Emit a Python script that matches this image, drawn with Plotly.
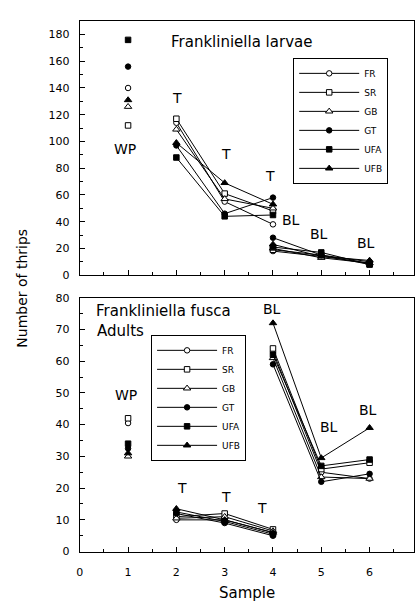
import plotly.graph_objects as go

# ---------------- data ----------------
series = ["FR", "SR", "GB", "GT", "UFA", "UFB"]
wp_sample = [1]
t_samples = [2, 3, 4]
bl_samples = [4, 5, 6]
x_ticks = [0, 1, 2, 3, 4, 5, 6]

# Frankliniella larvae (top panel), order as in `series`
larvae_wp = [140, 112, 126, 156, 176, 131]
larvae_t = [
    [114, 55, 38],
    [117, 61, 48],
    [109, 57, 50],
    [97, 46, 58],
    [88, 44, 45],
    [99, 69, 53],
]
larvae_bl = [
    [18, 14, 9],
    [19, 15, 8],
    [20, 13, 9],
    [28, 15, 10],
    [21, 17, 8],
    [23, 14, 11],
]

# Frankliniella fusca adults (bottom panel)
adults_wp = [40.5, 42, 30, 32.5, 34, 31]
adults_t = [
    [10, 10, 6],
    [11, 12, 7],
    [10.5, 11, 6.5],
    [12, 9, 5],
    [12.5, 9.5, 5.5],
    [13.5, 10, 6],
]
adults_bl = [
    [63, 25, 23],
    [64, 26, 28],
    [61, 23.5, 23],
    [59, 22, 24.5],
    [62, 27, 29],
    [72, 29.5, 39],
]

# ---------------- styles ----------------
FONT = "DejaVu Sans"
marker_styles = {
    "FR": dict(symbol="circle", color="white", size=5.5),
    "SR": dict(symbol="square", color="white", size=5.5),
    "GB": dict(symbol="triangle-up", color="white", size=6.5),
    "GT": dict(symbol="circle", color="black", size=5.5),
    "UFA": dict(symbol="square", color="black", size=5.5),
    "UFB": dict(symbol="triangle-up", color="black", size=6.5),
}

fig = go.Figure()


def add_panel(wp, t, bl, xa, ya, legend):
    for i, name in enumerate(series):
        xs = wp_sample + [None] + t_samples + [None] + bl_samples
        ys = [wp[i]] + [None] + t[i] + [None] + bl[i]
        ms = marker_styles[name]
        fig.add_trace(go.Scatter(
            x=xs, y=ys, name=name, mode="lines+markers",
            connectgaps=False, xaxis=xa, yaxis=ya, legend=legend,
            line=dict(color="black", width=1),
            marker=dict(symbol=ms["symbol"], color=ms["color"], size=ms["size"],
                        line=dict(color="black", width=1)),
        ))


add_panel(larvae_wp, larvae_t, larvae_bl, "x", "y", "legend")
add_panel(adults_wp, adults_t, adults_bl, "x2", "y2", "legend2")

W, H = 416, 610
xdom = [76.5 / W, 414.0 / W]
top_dom = [1 - 275 / H, 1 - 15.5 / H]
bot_dom = [1 - 557.5 / H, 1 - 298 / H]

axis_common = dict(showline=True, linecolor="black", linewidth=1, mirror=True,
                   showgrid=False, zeroline=False, ticks="inside", ticklen=5,
                   tickcolor="black", tickwidth=1,
                   tickfont=dict(family=FONT, size=11, color="black"))

fig.update_layout(
    width=W, height=H,
    margin=dict(l=0, r=0, t=0, b=0),
    paper_bgcolor="white", plot_bgcolor="white",
    font=dict(family=FONT, color="black"),
    xaxis=dict(domain=xdom, range=[0, 6.92], anchor="y", tickmode="array",
               tickvals=x_ticks, showticklabels=False,
               minor=dict(ticks="inside", dtick=0.5, tick0=0, ticklen=3,
                          tickcolor="black"),
               **axis_common),
    yaxis=dict(domain=top_dom, range=[0, 190], anchor="x", dtick=20, tick0=0,
               ticklabelstandoff=7,
               minor=dict(ticks="inside", dtick=10, tick0=0, ticklen=3,
                          tickcolor="black"),
               **axis_common),
    xaxis2=dict(domain=xdom, range=[0, 6.92], anchor="y2", tickmode="array",
                tickvals=x_ticks, ticklabelstandoff=10,
                minor=dict(ticks="inside", dtick=0.5, tick0=0, ticklen=3,
                           tickcolor="black"),
                **axis_common),
    yaxis2=dict(domain=bot_dom, range=[0, 80], anchor="x2", dtick=10, tick0=0,
                ticklabelstandoff=7,
                minor=dict(ticks="inside", dtick=5, tick0=0, ticklen=3,
                           tickcolor="black"),
                **axis_common),
    legend=dict(x=292 / W, y=1 - 53 / H, xanchor="left", yanchor="top",
                bordercolor="black", borderwidth=1, bgcolor="white",
                font=dict(family=FONT, size=9, color="black"),
                itemwidth=60, tracegroupgap=0, entrywidth=27),
    legend2=dict(x=148.5 / W, y=1 - 336 / H, xanchor="left", yanchor="top",
                 bordercolor="black", borderwidth=1, bgcolor="white",
                 font=dict(family=FONT, size=9, color="black"),
                 itemwidth=60, tracegroupgap=0, entrywidth=32),
    showlegend=True,
)

ann_font = dict(family=FONT, size=14, color="black")
labels_top = [
    ("T", 2.02, 132.5), ("T", 3.02, 90.8), ("T", 3.93, 74.5),
    ("WP", 0.93, 94.4), ("BL", 4.37, 41.5), ("BL", 4.95, 30.5), ("BL", 5.93, 24.4),
]
for txt, xv, yv in labels_top:
    fig.add_annotation(text=txt, x=xv, y=yv, xref="x", yref="y", showarrow=False,
                       font=ann_font)
labels_bot = [
    ("T", 2.12, 20.1), ("T", 3.03, 17.2), ("T", 3.78, 13.6),
    ("WP", 0.96, 49.3), ("BL", 3.97, 76.4), ("BL", 5.16, 39.4), ("BL", 5.97, 44.7),
]
for txt, xv, yv in labels_bot:
    fig.add_annotation(text=txt, x=xv, y=yv, xref="x2", yref="y2", showarrow=False,
                       font=ann_font)

title_font = dict(family=FONT, size=15, color="black")
fig.add_annotation(text="Frankliniella larvae", x=1.84, y=174.5, xref="x", yref="y",
                   xanchor="left", showarrow=False, font=title_font)
fig.add_annotation(text="Frankliniella fusca", x=0.29, y=75.9, xref="x2", yref="y2",
                   xanchor="left", showarrow=False, font=title_font)
fig.add_annotation(text="Adults", x=0.31, y=69.5, xref="x2", yref="y2",
                   xanchor="left", showarrow=False, font=title_font)

fig.add_annotation(text="Sample", x=245 / W, y=1 - 600 / H, xref="paper", yref="paper",
                   showarrow=False, font=title_font, xanchor="center", yanchor="middle")
fig.add_annotation(text="Number of thrips", x=18 / W, y=1 - 288 / H, xref="paper",
                   yref="paper", showarrow=False, textangle=-90,
                   xanchor="center", yanchor="middle",
                   font=dict(family=FONT, size=14, color="black"))

fig.write_html(
    "out.html",
    config={"displayModeBar": False},
    post_script="document.body.style.margin='0';document.body.style.overflow='hidden';",
)
